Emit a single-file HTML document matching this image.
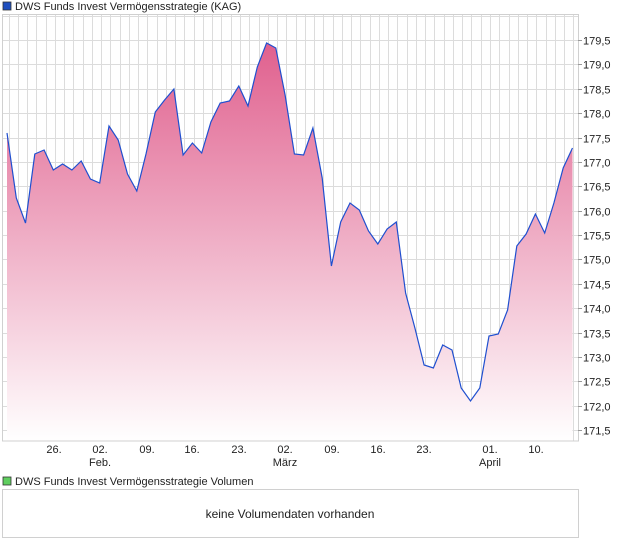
<!DOCTYPE html>
<html><head><meta charset="utf-8"><style>
body{margin:0;background:#fff;width:620px;height:546px;overflow:hidden;font-family:"Liberation Sans",sans-serif}
</style></head><body>
<svg width="620" height="546" xmlns="http://www.w3.org/2000/svg" font-family="Liberation Sans, sans-serif">
<defs><linearGradient id="g" x1="0" y1="0" x2="0" y2="1" gradientUnits="userSpaceOnUse" x1v="0">
</linearGradient>
<linearGradient id="f" x1="0" y1="43" x2="0" y2="441" gradientUnits="userSpaceOnUse">
<stop offset="0" stop-color="#e0608e"/><stop offset="1" stop-color="#ffffff"/></linearGradient></defs>
<rect x="3" y="2" width="8" height="8" fill="#1f4fbf" stroke="#333" stroke-width="0.8"/>
<text x="15" y="10" font-size="11" fill="#222">DWS Funds Invest Vermögensstrategie (KAG)</text>
<g id="grid" stroke="#dcdcdc" stroke-width="1"></g>
<path id="area" fill="url(#f)"/>
<polyline id="line" fill="none" stroke="#1f4fcf" stroke-width="1.2"/>
<rect x="2.5" y="14.5" width="576" height="426.5" fill="none" stroke="#d0d0d0"/>
<g font-size="11" fill="#222" id="yl"></g>
<g font-size="11" fill="#222" text-anchor="middle">
<text x="54" y="453">26.</text><text x="100" y="453">02.</text><text x="147" y="453">09.</text><text x="192" y="453">16.</text><text x="239" y="453">23.</text><text x="285" y="453">02.</text><text x="332" y="453">09.</text><text x="378" y="453">16.</text><text x="424" y="453">23.</text><text x="490" y="453">01.</text><text x="536" y="453">10.</text>
<text x="100" y="466">Feb.</text><text x="285" y="466">März</text><text x="490" y="466">April</text>
</g>
<rect x="3" y="477" width="8" height="8" fill="#5fce5f" stroke="#333" stroke-width="0.8"/>
<text x="15" y="485" font-size="11" fill="#222">DWS Funds Invest Vermögensstrategie Volumen</text>
<rect x="2.5" y="489.5" width="576" height="48" fill="#fff" stroke="#d0d0d0"/>
<text x="290" y="518" font-size="12" fill="#222" text-anchor="middle">keine Volumendaten vorhanden</text>
</svg>
<script>
var ys=[133,198,223,154,150,170,164,170,161,179,183,126,140,174,191,154,112,100,89,155,143,153,122,103,101,86,106,67,43,48,95,154,155,128,178,266,222,203,210,231,244,229,222,293,328,365,368,345,350,388,401,388,336,334,310,246,234,214,233,203,168,148];
var ns="http://www.w3.org/2000/svg";
var g=document.getElementById('grid');
function ln(x1,y1,x2,y2){var l=document.createElementNS(ns,'line');l.setAttribute('x1',x1);l.setAttribute('y1',y1);l.setAttribute('x2',x2);l.setAttribute('y2',y2);g.appendChild(l);}
for(var x=8.5;x<578;x+=9.26)ln(Math.round(x)+0.5,14,Math.round(x)+0.5,441);
var yl=document.getElementById('yl');
for(var i=0;i<=16;i++){var v=179.5-i*0.5,y=Math.round(40+i*24.375)+0.5;ln(2,y,578,y);
var t=document.createElementNS(ns,'text');t.setAttribute('x',583);t.setAttribute('y',y+4);t.textContent=v.toFixed(1).replace('.',',');yl.appendChild(t);
var k=document.createElementNS(ns,'line');k.setAttribute('x1',578);k.setAttribute('x2',582);k.setAttribute('y1',y);k.setAttribute('y2',y);k.setAttribute('stroke','#999');yl.appendChild(k);}
ln(2,16.5,578,16.5);
var pts=ys.map(function(y,i){return (7+i*9.27).toFixed(1)+','+y}).join(' ');
document.getElementById('line').setAttribute('points',pts);
document.getElementById('area').setAttribute('d','M7,441 L'+pts.replace(/ /g,' L')+' L'+(7+61*9.27).toFixed(1)+',441 Z');
</script>
</body></html>
